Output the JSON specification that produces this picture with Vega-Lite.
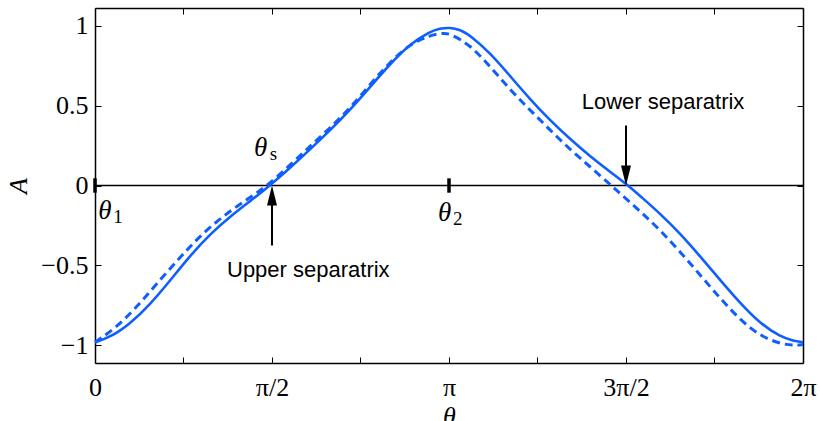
{
  "$schema": "https://vega.github.io/schema/vega-lite/v6.json",
  "width": 708,
  "height": 355,
  "autosize": {"type": "none"},
  "padding": {"left": 95, "top": 8, "right": 17, "bottom": 58},
  "background": "white",
  "config": {
    "view": {"stroke": null},
    "axis": {
      "grid": false,
      "domainColor": "black",
      "domainWidth": 1.5,
      "tickColor": "black",
      "tickWidth": 1,
      "tickSize": -6,
      "labelFont": "Liberation Serif",
      "labelFontSize": 26,
      "labelColor": "black",
      "labelOverlap": false,
      "labelFlush": false,
      "labelBound": false,
      "titleFont": "Liberation Serif",
      "titleFontSize": 26,
      "titleFontStyle": "italic",
      "titleFontWeight": "normal",
      "titleColor": "black"
    }
  },
  "datasets": {
    "solid": [
      {"t": 0, "a": -0.98}, {"t": 0.133, "a": -0.95}, {"t": 0.311, "a": -0.865}, {"t": 0.488, "a": -0.745},
      {"t": 0.666, "a": -0.595}, {"t": 0.843, "a": -0.44}, {"t": 1.02, "a": -0.305}, {"t": 1.198, "a": -0.195},
      {"t": 1.376, "a": -0.098}, {"t": 1.553, "a": 0.0}, {"t": 1.731, "a": 0.11}, {"t": 1.908, "a": 0.225},
      {"t": 2.086, "a": 0.345}, {"t": 2.263, "a": 0.472}, {"t": 2.44, "a": 0.615}, {"t": 2.618, "a": 0.76},
      {"t": 2.796, "a": 0.885}, {"t": 2.973, "a": 0.962}, {"t": 3.06, "a": 0.982}, {"t": 3.15, "a": 0.988},
      {"t": 3.24, "a": 0.975}, {"t": 3.328, "a": 0.94}, {"t": 3.505, "a": 0.83}, {"t": 3.683, "a": 0.685},
      {"t": 3.86, "a": 0.54}, {"t": 4.038, "a": 0.408}, {"t": 4.216, "a": 0.29}, {"t": 4.393, "a": 0.183},
      {"t": 4.571, "a": 0.086}, {"t": 4.733, "a": 0.0}, {"t": 4.837, "a": -0.065}, {"t": 5.014, "a": -0.175},
      {"t": 5.192, "a": -0.3}, {"t": 5.37, "a": -0.443}, {"t": 5.547, "a": -0.59}, {"t": 5.725, "a": -0.735},
      {"t": 5.902, "a": -0.862}, {"t": 6.08, "a": -0.945}, {"t": 6.2, "a": -0.972}, {"t": 6.2832, "a": -0.98}
    ],
    "dashed": [
      {"t": 0, "a": -0.98}, {"t": 0.044, "a": -0.96}, {"t": 0.192, "a": -0.885}, {"t": 0.37, "a": -0.76},
      {"t": 0.547, "a": -0.615}, {"t": 0.754, "a": -0.45}, {"t": 0.932, "a": -0.315}, {"t": 1.139, "a": -0.19},
      {"t": 1.346, "a": -0.088}, {"t": 1.524, "a": -0.005}, {"t": 1.731, "a": 0.128}, {"t": 1.908, "a": 0.245},
      {"t": 2.086, "a": 0.36}, {"t": 2.263, "a": 0.483}, {"t": 2.44, "a": 0.632}, {"t": 2.618, "a": 0.772},
      {"t": 2.796, "a": 0.885}, {"t": 2.973, "a": 0.94}, {"t": 3.09, "a": 0.953}, {"t": 3.15, "a": 0.95},
      {"t": 3.328, "a": 0.88}, {"t": 3.505, "a": 0.745}, {"t": 3.683, "a": 0.6}, {"t": 3.86, "a": 0.472},
      {"t": 4.038, "a": 0.348}, {"t": 4.216, "a": 0.225}, {"t": 4.393, "a": 0.118}, {"t": 4.555, "a": 0.016},
      {"t": 4.659, "a": -0.049}, {"t": 4.837, "a": -0.16}, {"t": 5.014, "a": -0.278}, {"t": 5.192, "a": -0.414},
      {"t": 5.37, "a": -0.559}, {"t": 5.547, "a": -0.705}, {"t": 5.725, "a": -0.84}, {"t": 5.902, "a": -0.94},
      {"t": 6.08, "a": -0.99}, {"t": 6.2, "a": -1.0}, {"t": 6.2832, "a": -0.995}
    ],
    "marks": [
      {"t": 0, "a1": -0.045, "a2": 0.045},
      {"t": 3.1416, "a1": -0.045, "a2": 0.045}
    ],
    "arrows": [
      {"t": 1.5708, "a1": -0.375, "a2": -0.06, "dir": "up"},
      {"t": 4.7124, "a1": 0.375, "a2": 0.06, "dir": "down"}
    ],
    "notes": [
      {"t": 1.893, "a": -0.572, "label": "Upper separatrix"},
      {"t": 5.041, "a": 0.476, "label": "Lower separatrix"}
    ],
    "symbols": [
      {"t": 0.0887, "a": -0.159, "main": "θ", "sub": "1"},
      {"t": 3.103, "a": -0.169, "main": "θ", "sub": "2"},
      {"t": 1.469, "a": 0.234, "main": "θ", "sub": "s"}
    ]
  },
  "resolve": {"axis": {"x": "independent", "y": "independent"}},
  "layer": [
    {
      "data": {"values": [{"a": 0}]},
      "mark": {"type": "rule", "color": "black", "strokeWidth": 1.3},
      "encoding": {
        "y": {"field": "a", "type": "quantitative", "scale": {"domain": [-1.11, 1.11], "nice": false, "zero": false}, "axis": null}
      }
    },
    {
      "data": {"name": "solid"},
      "mark": {"type": "line", "color": "#0f5eff", "strokeWidth": 2.6, "interpolate": "basis"},
      "encoding": {
        "x": {"field": "t", "type": "quantitative", "scale": {"domain": [0, 6.2832], "nice": false, "zero": false},
          "axis": {"orient": "bottom", "title": "θ", "values": [0, 0.7853981634, 1.5707963268, 2.3561944902, 3.1415926536, 3.926990817, 4.7123889804, 5.4977871438, 6.2831853072],
            "labelExpr": "['0','','π/2','','π','','3π/2','','2π'][round(datum.value*4/PI)]", "labelPadding": 17, "titlePadding": 3}},
        "y": {"field": "a", "type": "quantitative", "scale": {"domain": [-1.11, 1.11], "nice": false, "zero": false},
          "axis": {"orient": "left", "title": "A", "values": [-1, -0.5, 0, 0.5, 1], "format": "~g", "labelPadding": 13, "titlePadding": 9}}
      }
    },
    {
      "data": {"name": "dashed"},
      "mark": {"type": "line", "color": "#0f5eff", "strokeWidth": 3, "strokeDash": [8, 5], "interpolate": "basis"},
      "encoding": {
        "x": {"field": "t", "type": "quantitative", "scale": {"domain": [0, 6.2832], "nice": false, "zero": false},
          "axis": {"orient": "top", "title": null, "labels": false, "values": [0, 0.7853981634, 1.5707963268, 2.3561944902, 3.1415926536, 3.926990817, 4.7123889804, 5.4977871438, 6.2831853072]}},
        "y": {"field": "a", "type": "quantitative", "scale": {"domain": [-1.11, 1.11], "nice": false, "zero": false},
          "axis": {"orient": "right", "title": null, "labels": false, "values": [-1, -0.5, 0, 0.5, 1]}}
      }
    },
    {
      "data": {"name": "marks"},
      "mark": {"type": "rule", "color": "black", "strokeWidth": 3.5},
      "encoding": {
        "x": {"field": "t", "type": "quantitative", "axis": null},
        "y": {"field": "a1", "type": "quantitative", "axis": null},
        "y2": {"field": "a2"}
      }
    },
    {
      "data": {"name": "arrows"},
      "mark": {"type": "rule", "color": "black", "strokeWidth": 2},
      "encoding": {
        "x": {"field": "t", "type": "quantitative", "axis": null},
        "y": {"field": "a1", "type": "quantitative", "axis": null},
        "y2": {"field": "a2"}
      }
    },
    {
      "data": {"name": "arrows"},
      "mark": {"type": "point", "filled": true, "color": "black", "opacity": 1, "size": 400},
      "encoding": {
        "x": {"field": "t", "type": "quantitative", "axis": null},
        "y": {"datum": 0, "type": "quantitative", "axis": null},
        "shape": {"field": "dir", "type": "nominal", "legend": null,
          "scale": {"domain": ["up", "down"], "range": ["M0,0L-0.5,2L0.5,2Z", "M0,0L-0.5,-2L0.5,-2Z"]}}
      }
    },
    {
      "data": {"name": "notes"},
      "mark": {"type": "text", "font": "Liberation Sans", "fontSize": 22, "color": "black", "align": "center", "baseline": "alphabetic"},
      "encoding": {
        "x": {"field": "t", "type": "quantitative", "axis": null},
        "y": {"field": "a", "type": "quantitative", "axis": null},
        "text": {"field": "label"}
      }
    },
    {
      "data": {"name": "symbols"},
      "mark": {"type": "text", "font": "Liberation Serif", "fontSize": 27, "fontStyle": "italic", "color": "black", "align": "center", "baseline": "middle"},
      "encoding": {
        "x": {"field": "t", "type": "quantitative", "axis": null},
        "y": {"field": "a", "type": "quantitative", "axis": null},
        "text": {"field": "main"}
      }
    },
    {
      "data": {"name": "symbols"},
      "mark": {"type": "text", "font": "Liberation Serif", "fontSize": 19, "color": "black", "align": "center", "baseline": "middle", "dx": 13, "dy": 6},
      "encoding": {
        "x": {"field": "t", "type": "quantitative", "axis": null},
        "y": {"field": "a", "type": "quantitative", "axis": null},
        "text": {"field": "sub"}
      }
    }
  ]
}
